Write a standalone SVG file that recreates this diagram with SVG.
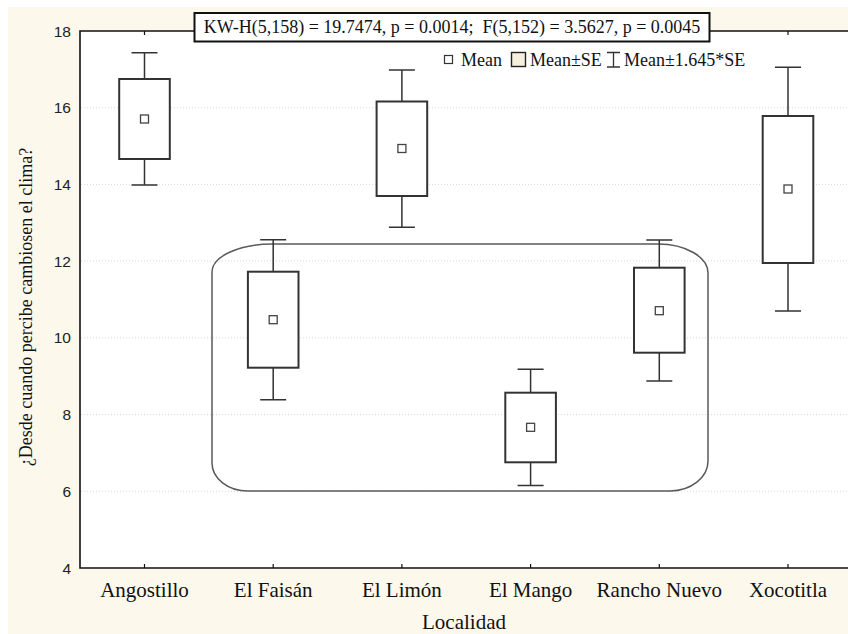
<svg xmlns="http://www.w3.org/2000/svg" width="848" height="634" viewBox="0 0 848 634">
  <style>
    .serif { font-family: "Liberation Serif", "Times New Roman", serif; fill: #111; }
    .tick { font-family: "Liberation Sans", Arial, sans-serif; font-size: 15.5px; fill: #222; text-anchor: end; }
    .cat { font-size: 21px; text-anchor: middle; }
    .grid { stroke: #d8d8d8; stroke-width: 1; stroke-dasharray: 1 2; }
    .axis { stroke: #111; stroke-width: 1.6; fill: none; }
    .box { fill: #fff; stroke: #333; stroke-width: 2; }
    .whisker { stroke: #333; stroke-width: 1.5; fill: none; }
    .mean { fill: #fff; stroke: #444; stroke-width: 1.3; }
  </style>
  <defs>
    <!-- one box-and-whisker glyph: caps, stems and SE box are positioned per group -->
    <rect id="meanMark" x="-4" y="-4" width="8" height="8" class="mean"/>
  </defs>

  <!-- page background and plot area -->
  <rect x="0" y="0" width="848" height="634" fill="#ffffff"/>
  <rect x="8" y="7" width="840" height="627" fill="#fdf8ec"/>
  <rect x="80" y="31" width="768" height="537" fill="#ffffff"/>

  <!-- grid lines -->
  <g id="grid">
    <line class="grid" x1="81" y1="107.7" x2="848" y2="107.7"/>
    <line class="grid" x1="81" y1="184.4" x2="848" y2="184.4"/>
    <line class="grid" x1="81" y1="261.1" x2="848" y2="261.1"/>
    <line class="grid" x1="81" y1="337.9" x2="848" y2="337.9"/>
    <line class="grid" x1="81" y1="414.6" x2="848" y2="414.6"/>
    <line class="grid" x1="81" y1="491.3" x2="848" y2="491.3"/>
  </g>

  <!-- axes -->
  <g id="axes">
    <path class="axis" d="M848 31 H80 V568 H848"/>
    <g stroke="#111" stroke-width="1.2">
      <line x1="144.5" y1="31" x2="144.5" y2="35"/>
      <line x1="273.2" y1="31" x2="273.2" y2="35"/>
      <line x1="401.9" y1="31" x2="401.9" y2="35"/>
      <line x1="530.6" y1="31" x2="530.6" y2="35"/>
      <line x1="659.3" y1="31" x2="659.3" y2="35"/>
      <line x1="788" y1="31" x2="788" y2="35"/>
      <line x1="144.5" y1="568" x2="144.5" y2="564"/>
      <line x1="273.2" y1="568" x2="273.2" y2="564"/>
      <line x1="401.9" y1="568" x2="401.9" y2="564"/>
      <line x1="530.6" y1="568" x2="530.6" y2="564"/>
      <line x1="659.3" y1="568" x2="659.3" y2="564"/>
      <line x1="788" y1="568" x2="788" y2="564"/>
    </g>
    <text class="tick" x="71" y="36.5">18</text>
    <text class="tick" x="71" y="113.2">16</text>
    <text class="tick" x="71" y="189.9">14</text>
    <text class="tick" x="71" y="266.6">12</text>
    <text class="tick" x="71" y="343.4">10</text>
    <text class="tick" x="71" y="420.1">8</text>
    <text class="tick" x="71" y="496.8">6</text>
    <text class="tick" x="71" y="573.5">4</text>
    <text class="serif" font-size="18" text-anchor="middle" transform="translate(32 307) rotate(-90)">¿Desde cuando percibe cambiosen el clima?</text>
    <text class="serif cat" x="144.5" y="597">Angostillo</text>
    <text class="serif cat" x="273.2" y="597">El Faisán</text>
    <text class="serif cat" x="401.9" y="597">El Limón</text>
    <text class="serif cat" x="530.6" y="597">El Mango</text>
    <text class="serif cat" x="659.3" y="597">Rancho Nuevo</text>
    <text class="serif cat" x="788" y="597">Xocotitla</text>
    <text class="serif cat" x="464" y="629">Localidad</text>
  </g>

  <!-- grouping outline around the four middle localities -->
  <g id="grouping">
    <path d="M272 244 H658 A50 29 0 0 1 708 273 V461 A38 30 0 0 1 670 491 H248 A36 28 0 0 1 212 463 V272 A60 28 0 0 1 272 244 Z" fill="none" stroke="#5a5a5a" stroke-width="1.5"/>
  </g>

  <!-- box plots: whiskers = Mean±1.645*SE, box = Mean±SE -->
  <g id="angostillo" transform="translate(144.5 0)">
    <path class="whisker" d="M-13 52.7 H13 M0 52.7 V79 M0 159 V185 M-13 185 H13"/>
    <rect class="box" x="-25.3" y="79" width="50.6" height="80"/>
    <use href="#meanMark" y="119"/>
  </g>
  <g id="el-faisan" transform="translate(273.2 0)">
    <path class="whisker" d="M-13 239.7 H13 M0 239.7 V271.7 M0 367.7 V399.7 M-13 399.7 H13"/>
    <rect class="box" x="-25.3" y="271.7" width="50.6" height="96"/>
    <use href="#meanMark" y="319.7"/>
  </g>
  <g id="el-limon" transform="translate(401.9 0)">
    <path class="whisker" d="M-13 70 H13 M0 70 V101.5 M0 196 V227.3 M-13 227.3 H13"/>
    <rect class="box" x="-25.3" y="101.5" width="50.6" height="94.5"/>
    <use href="#meanMark" y="148.5"/>
  </g>
  <g id="el-mango" transform="translate(530.6 0)">
    <path class="whisker" d="M-13 369.3 H13 M0 369.3 V392.7 M0 462.3 V485.5 M-13 485.5 H13"/>
    <rect class="box" x="-25.3" y="392.7" width="50.6" height="69.6"/>
    <use href="#meanMark" y="427.3"/>
  </g>
  <g id="rancho-nuevo" transform="translate(659.3 0)">
    <path class="whisker" d="M-13 240 H13 M0 240 V267.7 M0 352.7 V381 M-13 381 H13"/>
    <rect class="box" x="-25.3" y="267.7" width="50.6" height="85"/>
    <use href="#meanMark" y="310.7"/>
  </g>
  <g id="xocotitla" transform="translate(788 0)">
    <path class="whisker" d="M-13 67.3 H13 M0 67.3 V116 M0 263 V311 M-13 311 H13"/>
    <rect class="box" x="-25.3" y="116" width="50.6" height="147"/>
    <use href="#meanMark" y="189"/>
  </g>

  <!-- test statistics header -->
  <g id="stats">
    <rect x="194.5" y="13" width="515" height="28.5" fill="#ffffff" stroke="#111" stroke-width="2"/>
    <text class="serif" font-size="18" x="452" y="33" text-anchor="middle" xml:space="preserve">KW-H(5,158) = 19.7474, p = 0.0014;  F(5,152) = 3.5627, p = 0.0045</text>
  </g>

  <!-- legend -->
  <g id="legend">
    <rect x="444.5" y="55.5" width="8" height="8" fill="#fff" stroke="#333" stroke-width="1.2"/>
    <text class="serif" font-size="18" x="461" y="66">Mean</text>
    <rect x="511.5" y="52.5" width="14" height="14" fill="#f6efdd" stroke="#222" stroke-width="1.4"/>
    <text class="serif" font-size="18" x="530" y="66">Mean±SE</text>
    <path d="M607 52.5 H620 M613.5 52.5 V67 M607 67 H620" stroke="#333" stroke-width="1.3" fill="none"/>
    <text class="serif" font-size="18" x="624" y="66">Mean±1.645*SE</text>
  </g>
</svg>
